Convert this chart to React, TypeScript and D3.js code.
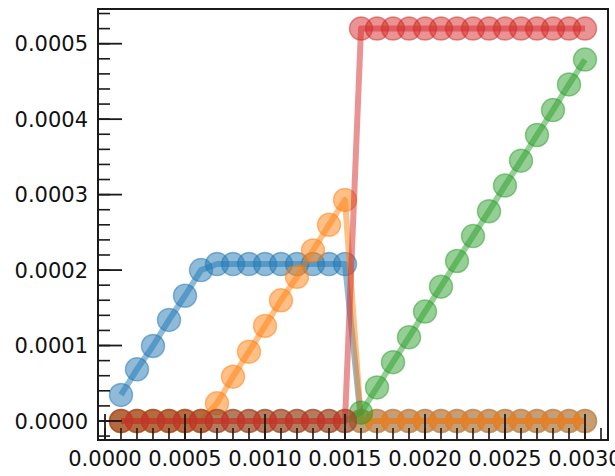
import React from "react";
import * as d3 from "d3";

const xValues = [
  0.0001, 0.0002, 0.0003, 0.0004, 0.0005, 0.0006, 0.0007, 0.0008, 0.0009, 0.001,
  0.0011, 0.0012, 0.0013, 0.0014, 0.0015, 0.0016, 0.0017, 0.0018, 0.0019, 0.002,
  0.0021, 0.0022, 0.0023, 0.0024, 0.0025, 0.0026, 0.0027, 0.0028, 0.0029, 0.003,
];

const blueValues = [
  0.0000345, 0.0000685, 0.0000994, 0.000134, 0.000166, 0.0002, 0.000208, 0.000208,
  0.000208, 0.000208, 0.000208, 0.000208, 0.000208, 0.000208, 0.000208,
  0, 0, 0, 0, 0, 0, 0, 0, 0, 0, 0, 0, 0, 0, 0,
];

const orangeValues = [
  0, 0, 0, 0, 0, 0, 0.0000234, 0.0000587, 0.0000918, 0.000126, 0.00016, 0.000191,
  0.000226, 0.00026, 0.000293,
  0, 0, 0, 0, 0, 0, 0, 0, 0, 0, 0, 0, 0, 0, 0,
];

const greenValues = [
  0, 0, 0, 0, 0, 0, 0, 0, 0, 0, 0, 0, 0, 0, 0,
  0.000011, 0.0000445, 0.000078, 0.000111, 0.000145, 0.000178, 0.000212, 0.000245,
  0.000278, 0.000312, 0.000345, 0.000379, 0.000412, 0.000446, 0.000479,
];

const redValues = [
  0, 0, 0, 0, 0, 0, 0, 0, 0, 0, 0, 0, 0, 0, 0,
  0.00052, 0.00052, 0.00052, 0.00052, 0.00052, 0.00052, 0.00052, 0.00052,
  0.00052, 0.00052, 0.00052, 0.00052, 0.00052, 0.00052, 0.00052,
];

const seriesColors = ["#1f77b4", "#ff7f0e", "#2ca02c", "#d62728"];
const seriesList = [blueValues, orangeValues, greenValues, redValues];

const xMajorTicks = [0, 0.0005, 0.001, 0.0015, 0.002, 0.0025, 0.003];
const yMajorTicks = [0, 0.0001, 0.0002, 0.0003, 0.0004, 0.0005];

const W = 615;
const H = 476;
const left = 98;
const right = 608;
const top = 9;
const bottom = 440;

export default function App() {
  const x = d3.scaleLinear().domain([-0.00004375, 0.00314375]).range([left, right]);
  const y = d3.scaleLinear().domain([-0.0000252, 0.000546]).range([bottom, top]);

  const xMinor = d3.range(0, 32).map((i) => i * 0.0001);
  const yMinor = d3.range(-1, 28).map((i) => i * 0.00002);
  const fmt = d3.format(".4f");

  const line = d3
    .line<number>()
    .x((_, i) => x(xValues[i]))
    .y((d) => y(d));

  const tickColor = "#1a1a1a";
  const font = "DejaVu Sans, sans-serif";

  return (
    <div style={{ position: "fixed", left: 0, top: 0 }}>
      <svg width={W} height={H} style={{ display: "block", background: "#fff" }}>
        <defs>
          <clipPath id="plotclip">
            <rect x={left} y={top} width={right - left} height={bottom - top} />
          </clipPath>
        </defs>
        <g clipPath="url(#plotclip)">
          {seriesList.map((vals, si) => (
            <g key={si}>
              <path
                d={line(vals) || ""}
                fill="none"
                stroke={seriesColors[si]}
                strokeOpacity={0.5}
                strokeWidth={6}
                strokeLinejoin="round"
              />
              {vals.map((v, i) => (
                <circle
                  key={i}
                  cx={x(xValues[i])}
                  cy={y(v)}
                  r={11.5}
                  fill={seriesColors[si]}
                  fillOpacity={0.5}
                  stroke={seriesColors[si]}
                  strokeOpacity={0.5}
                  strokeWidth={1.5}
                />
              ))}
            </g>
          ))}
        </g>
        {/* minor ticks */}
        {xMinor.map((t, i) => (
          <line key={"xm" + i} x1={x(t)} x2={x(t)} y1={bottom} y2={bottom - 12} stroke={tickColor} strokeWidth={1.6} />
        ))}
        {yMinor.map((t, i) => (
          <line key={"ym" + i} x1={left} x2={left + 12} y1={y(t)} y2={y(t)} stroke={tickColor} strokeWidth={1.6} />
        ))}
        {/* major ticks */}
        {xMajorTicks.map((t, i) => (
          <g key={"xM" + i}>
            <line x1={x(t)} x2={x(t)} y1={bottom} y2={bottom - 26} stroke={tickColor} strokeWidth={1.8} />
            <text x={x(t)} y={466} textAnchor="middle" fontFamily={font} fontSize={21} fill="#111">
              {fmt(t)}
            </text>
          </g>
        ))}
        {yMajorTicks.map((t, i) => (
          <g key={"yM" + i}>
            <line x1={left} x2={left + 24} y1={y(t)} y2={y(t)} stroke={tickColor} strokeWidth={1.8} />
            <text x={88} y={y(t)} dy="0.36em" textAnchor="end" fontFamily={font} fontSize={21} fill="#111">
              {fmt(t)}
            </text>
          </g>
        ))}
        {/* frame */}
        <rect x={left} y={top} width={right - left} height={bottom - top} fill="none" stroke={tickColor} strokeWidth={2} />
      </svg>
    </div>
  );
}
